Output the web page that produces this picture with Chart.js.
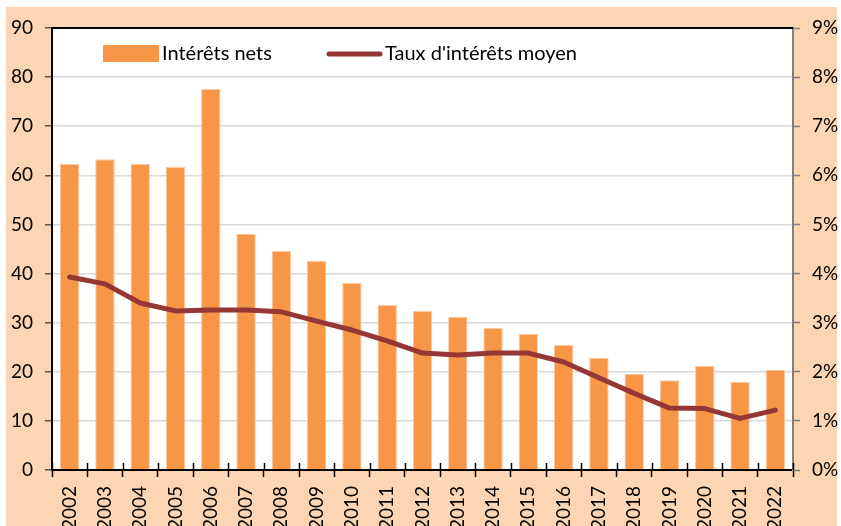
<!DOCTYPE html>
<html>
<head>
<meta charset="utf-8">
<script src="https://cdn.jsdelivr.net/npm/chart.js@4/dist/chart.umd.min.js"></script>
<style>
html,body{margin:0;padding:0;background:#fff;}
#wrap{position:relative;width:841px;height:526px;}
</style>
</head>
<body>
<div id="wrap"><canvas id="c" width="841" height="526"></canvas></div>
<script>
const years = ['2002','2003','2004','2005','2006','2007','2008','2009','2010','2011','2012','2013','2014','2015','2016','2017','2018','2019','2020','2021','2022'];
const interetsNets = [62.3, 63.3, 62.3, 61.7, 77.6, 48.1, 44.6, 42.6, 38.1, 33.6, 32.4, 31.2, 28.9, 27.7, 25.5, 22.8, 19.6, 18.3, 21.2, 17.9, 20.4];
const tauxMoyen = [3.93, 3.79, 3.40, 3.24, 3.26, 3.26, 3.22, 3.03, 2.85, 2.63, 2.38, 2.34, 2.38, 2.38, 2.20, 1.88, 1.56, 1.26, 1.25, 1.05, 1.22];
const leftTicks = [0,10,20,30,40,50,60,70,80,90];
const rightTicks = ['0%','1%','2%','3%','4%','5%','6%','7%','8%','9%'];

const PEACH = '#FCD5B4';
const ORANGE = '#F79646';
const DARKRED = '#953735';
const FONT = 'Lato, "Open Sans", sans-serif';

const bgPlugin = {
  id: 'bg',
  beforeDraw(chart) {
    const ctx = chart.ctx, a = chart.chartArea;
    ctx.save();
    ctx.fillStyle = '#ffffff';
    ctx.fillRect(0, 0, chart.width, chart.height);
    ctx.fillStyle = PEACH;
    ctx.fillRect(6, 7, 831, chart.height - 7);
    ctx.fillStyle = '#ffffff';
    ctx.fillRect(a.left, a.top, a.right - a.left, a.bottom - a.top);
    ctx.restore();
  },
  afterDraw(chart) {
    const ctx = chart.ctx, a = chart.chartArea, xs = chart.scales.x;
    ctx.save();
    // top border
    ctx.strokeStyle = '#000';
    ctx.lineWidth = 2;
    ctx.beginPath();
    ctx.moveTo(a.left - 1, a.top);
    ctx.lineTo(a.right, a.top);
    ctx.stroke();
    // inward part of cross tick marks on category axis
    ctx.strokeStyle = '#000';
    ctx.lineWidth = 1.5;
    for (let i = 0; i <= years.length; i++) {
      const px = Math.round(xs.getPixelForValue(i - 0.5)) + 0.5;
      ctx.beginPath();
      ctx.moveTo(px, a.bottom);
      ctx.lineTo(px, a.bottom - 7);
      ctx.stroke();
    }
    // legend
    const ds = chart.data.datasets;
    ctx.fillStyle = ORANGE;
    ctx.fillRect(103, 45, 56, 17);
    ctx.fillStyle = '#000';
    ctx.font = '20px ' + FONT;
    ctx.textBaseline = 'middle';
    ctx.textAlign = 'left';
    ctx.fillText(ds[1].label, 162, 54);
    ctx.strokeStyle = DARKRED;
    ctx.lineWidth = 5;
    ctx.lineCap = 'round';
    ctx.beginPath();
    ctx.moveTo(329, 54);
    ctx.lineTo(380, 54);
    ctx.stroke();
    ctx.fillText(ds[0].label, 385, 54);
    ctx.restore();
  }
};

new Chart(document.getElementById('c'), {
  data: {
    labels: years,
    datasets: [
      {
        type: 'line',
        label: "Taux d'intérêts moyen",
        data: tauxMoyen,
        yAxisID: 'y1',
        borderColor: DARKRED,
        borderWidth: 5,
        pointRadius: 0,
        tension: 0,
        borderJoinStyle: 'round',
        borderCapStyle: 'round',
        order: 0
      },
      {
        type: 'bar',
        label: 'Intérêts nets',
        data: interetsNets,
        yAxisID: 'y',
        backgroundColor: ORANGE,
        borderColor: '#FAC9A0',
        borderWidth: 1,
        categoryPercentage: 1,
        barPercentage: 0.55,
        order: 1
      }
    ]
  },
  options: {
    responsive: false,
    animation: false,
    devicePixelRatio: 1,
    layout: { padding: { top: 28, left: 0, right: 0, bottom: 0 } },
    plugins: { legend: { display: false }, tooltip: { enabled: false } },
    scales: {
      x: {
        offset: true,
        grid: { display: true, offset: true, drawOnChartArea: false, tickLength: 7, tickColor: '#000', tickWidth: 1.5 },
        border: { display: true, color: '#000', width: 2 },
        ticks: {
          autoSkip: false, minRotation: 90, maxRotation: 90, padding: 9,
          color: '#000', font: { family: FONT, size: 19 }
        },
        afterFit(s) { s.height = 56; }
      },
      y: {
        position: 'left',
        min: 0, max: 90,
        afterBuildTicks(s) { s.ticks = leftTicks.map(v => ({ value: v })); },
        grid: { color: '#D9D9D9', lineWidth: 1.5, tickColor: '#595959', tickLength: 7, tickWidth: 1.5 },
        border: { display: true, color: '#000', width: 2 },
        ticks: { padding: 12, color: '#000', font: { family: FONT, size: 19 } },
        afterFit(s) { s.width = 52; }
      },
      y1: {
        position: 'right',
        min: 0, max: 9,
        afterBuildTicks(s) { s.ticks = rightTicks.map((t, i) => ({ value: i })); },
        grid: { drawOnChartArea: false, tickColor: '#7F7F7F', tickLength: 7, tickWidth: 1.5 },
        border: { display: true, color: '#7F7F7F', width: 2 },
        ticks: {
          padding: 12, color: '#000', font: { family: FONT, size: 19 },
          callback(v, i) { return rightTicks[i]; }
        },
        afterFit(s) { s.width = 48; }
      }
    }
  },
  plugins: [bgPlugin]
});
</script>
</body>
</html>
